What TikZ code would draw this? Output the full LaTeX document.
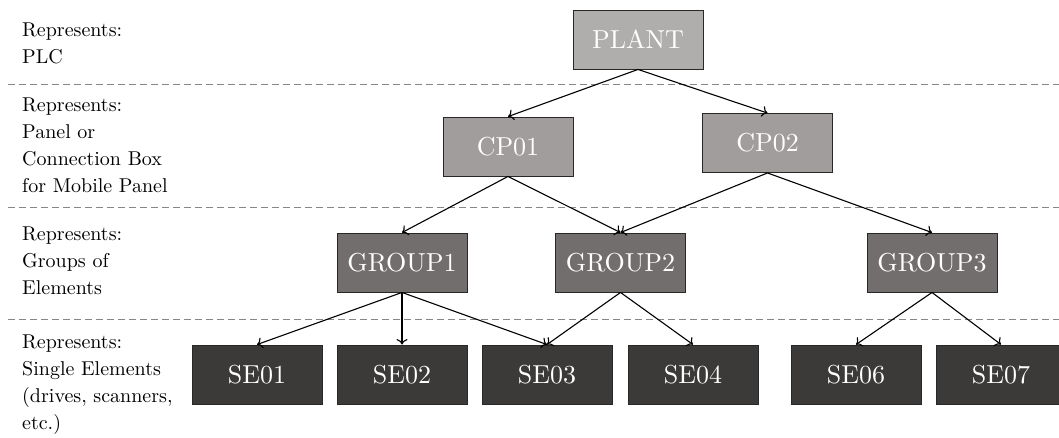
\documentclass[tikz,border=0pt]{standalone}
\usepackage{fontspec}
% the 10pt design of Latin Modern at every size, for its wider, sturdier letters
\setmainfont{lmroman10-regular}[Extension=.otf]
\usetikzlibrary{arrows.meta}

\definecolor{plantfill}{RGB}{176,173,173}
\definecolor{cpfill}{RGB}{161,157,156}
\definecolor{groupfill}{RGB}{114,110,109}
\definecolor{sefill}{RGB}{60,58,57}
\definecolor{boxedge}{RGB}{40,40,40}
\definecolor{sepline}{RGB}{135,135,135}

\tikzset{
  unit/.style={draw=boxedge, line width=0.9pt, minimum width=130pt, minimum height=59pt,
               inner sep=0pt, text=white, font=\fontsize{26}{30}\selectfont},
  plantbox/.style={unit, fill=plantfill},
  cpbox/.style={unit, fill=cpfill},
  groupbox/.style={unit, fill=groupfill},
  sebox/.style={unit, fill=sefill},
  levellabel/.style={anchor=north west, align=left, inner sep=0pt,
                     font=\fontsize{20}{27}\selectfont},
  levelsep/.style={draw=sepline, line width=0.9pt, dash pattern=on 7pt off 4pt},
  link/.style={draw=black, line width=1.1pt, -{To[length=5.5pt,width=11pt]}},
}

\begin{document}
\begin{tikzpicture}[x=1pt, y=-1pt]
  \useasboundingbox (0,0) rectangle (1059,437);

  % level separators
  \coordinate (s1a) at (8,84);   \coordinate (s1b) at (1059,84);
  \coordinate (s2a) at (8,207);  \coordinate (s2b) at (1059,207);
  \coordinate (s3a) at (8,319);  \coordinate (s3b) at (1059,319);
  \draw[levelsep] (s1a) -- (s1b);
  \draw[levelsep] (s2a) -- (s2b);
  \draw[levelsep] (s3a) -- (s3b);

  % level descriptions
  \node[levellabel] (l1) at (22,23)  {Represents:\\PLC};
  \node[levellabel] (l2) at (22,98)  {Represents:\\Panel or\\Connection Box\\for Mobile Panel};
  \node[levellabel] (l3) at (22,227) {Represents:\\Groups of\\Elements};
  \node[levellabel] (l4) at (22,335) {Represents:\\Single Elements\\(drives, scanners,\\etc.)};

  % hierarchy
  \node[plantbox] (plant) at (638,39.5)   {PLANT};
  \node[cpbox]    (cp01)  at (508,146.5)  {CP01};
  \node[cpbox]    (cp02)  at (767.5,143)  {CP02};
  \node[groupbox] (g1)    at (402,262.5)  {GROUP1};
  \node[groupbox] (g2)    at (620.5,262.5){GROUP2};
  \node[groupbox] (g3)    at (932,262.5)  {GROUP3};
  \node[sebox]    (se01)  at (257,374.5)  {SE01};
  \node[sebox]    (se02)  at (402,374.5)  {SE02};
  \node[sebox]    (se03)  at (547,374.5)  {SE03};
  \node[sebox]    (se04)  at (693,374.5)  {SE04};
  \node[sebox]    (se06)  at (856,374.5)  {SE06};
  \node[sebox]    (se07)  at (1001,374.5) {SE07};

  % connections
  \draw[link] (plant.south) -- (cp01.north);
  \draw[link] (plant.south) -- (cp02.north);
  \draw[link] (cp01.south) -- (g1.north);
  \draw[link] (cp01.south) -- (g2.north);
  \draw[link] (cp02.south) -- (g2.north);
  \draw[link] (cp02.south) -- (g3.north);
  \draw[link] (g1.south) -- (se01.north);
  \draw[link] (g1.south) -- (se02.north);
  \draw[link] (g1.south) -- (se03.north);
  \draw[link] (g2.south) -- (se03.north);
  \draw[link] (g2.south) -- (se04.north);
  \draw[link] (g3.south) -- (se06.north);
  \draw[link] (g3.south) -- (se07.north);
\end{tikzpicture}
\end{document}
